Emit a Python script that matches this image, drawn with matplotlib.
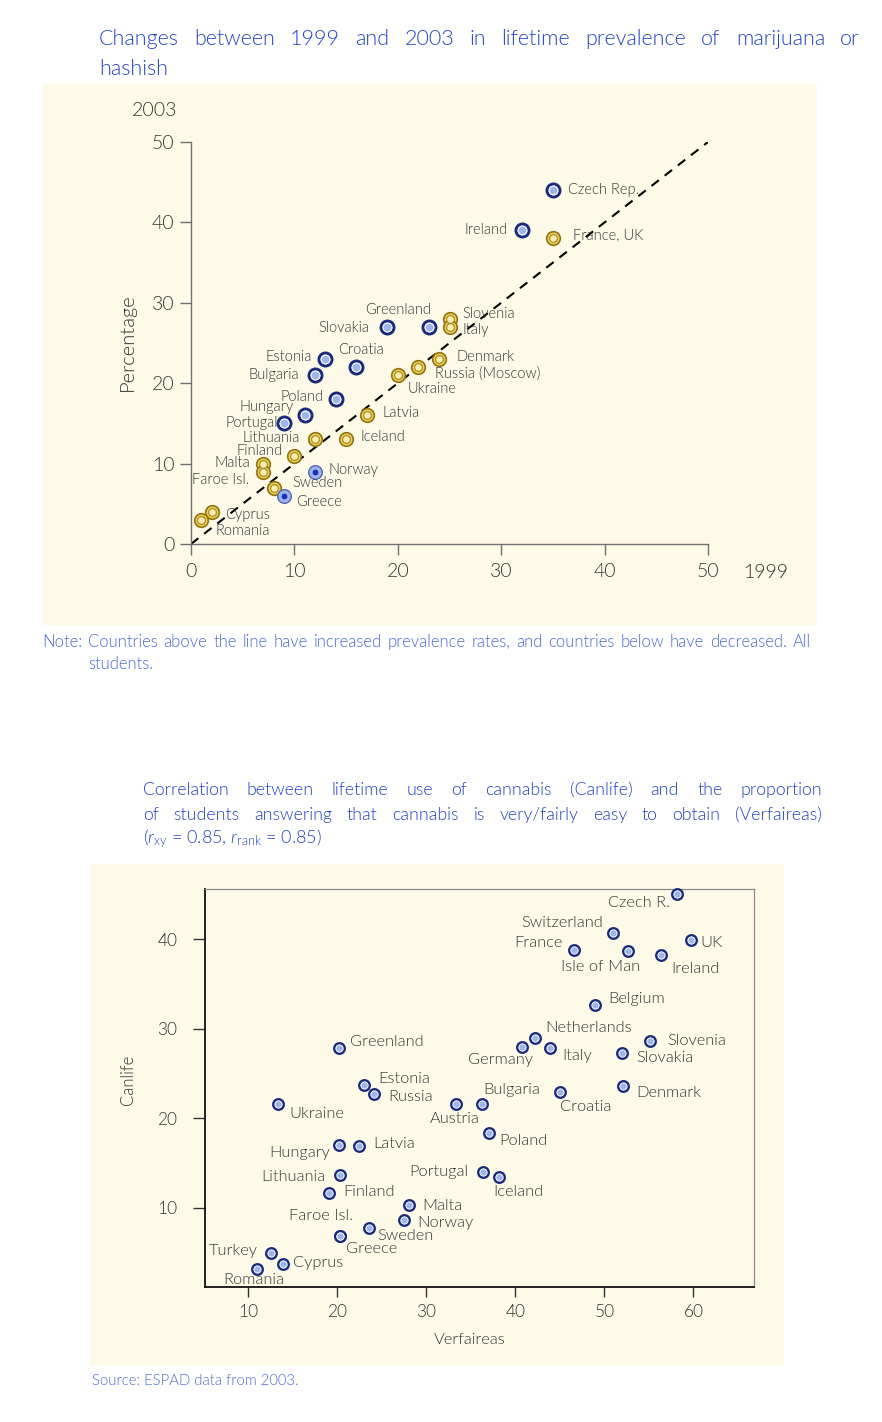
import matplotlib
matplotlib.use("Agg")
import matplotlib.pyplot as plt
from matplotlib.patches import Rectangle

# ---------------- data: chart 1 ----------------
top_countries = ["Czech Rep.", "Ireland", "France, UK", "Greenland", "Slovakia",
                 "Slovenia", "Italy", "Denmark", "Russia (Moscow)", "Ukraine",
                 "Estonia", "Croatia", "Bulgaria", "Poland", "Hungary",
                 "Portugal", "Latvia", "Lithuania", "Iceland", "Finland",
                 "Malta", "Faroe Isl.", "Norway", "Sweden", "Greece",
                 "Cyprus", "Romania"]
prev_1999 = [35, 32, 35, 23, 19, 25, 25, 24, 22, 20, 13, 16, 12, 14, 11, 9, 17,
             12, 15, 10, 7, 7, 12, 8, 9, 2, 1]
prev_2003 = [44, 39, 38, 27, 27, 28, 27, 23, 22, 21, 23, 22, 21, 18, 16, 15, 16,
             13, 13, 11, 10, 9, 9, 7, 6, 4, 3]
top_group = ["blue", "blue", "yellow", "blue", "blue", "yellow", "yellow", "yellow",
             "yellow", "yellow", "blue", "blue", "blue", "blue", "blue", "blue",
             "yellow", "yellow", "yellow", "yellow", "yellow", "yellow", "dot",
             "yellow", "dot", "yellow", "yellow"]
top_xticks = [0, 10, 20, 30, 40, 50]
top_yticks = [0, 10, 20, 30, 40, 50]

# ---------------- data: chart 2 ----------------
bot_countries = ["Czech R.", "Switzerland", "France", "Isle of Man", "UK", "Ireland",
                 "Belgium", "Netherlands", "Germany", "Italy", "Slovenia", "Slovakia",
                 "Denmark", "Greenland", "Estonia", "Russia", "Bulgaria", "Croatia",
                 "Austria", "Poland", "Portugal", "Iceland", "Ukraine", "Hungary",
                 "Latvia", "Lithuania", "Finland", "Malta", "Norway", "Sweden",
                 "Faroe Isl.", "Greece", "Turkey", "Cyprus", "Romania"]
verfaireas = [58.1, 51.0, 46.6, 52.7, 59.7, 56.3, 48.9, 42.2, 40.7, 43.9, 55.1, 52.0,
              52.1, 20.2, 23.0, 24.1, 36.2, 45.0, 33.3, 37.0, 36.4, 38.2, 13.3, 20.2,
              22.4, 20.3, 19.1, 28.1, 27.5, 23.6, 20.3, 20.3, 12.5, 13.9, 11.0]
canlife = [45.0, 40.7, 38.8, 38.7, 39.9, 38.2, 32.6, 29.0, 28.0, 27.8, 28.6, 27.3,
           23.6, 27.8, 23.7, 22.7, 21.6, 22.9, 21.6, 18.4, 14.0, 13.4, 21.6, 17.0,
           16.9, 13.6, 11.6, 10.3, 8.6, 7.7, 6.8, 6.8, 4.9, 3.7, 3.2]
bot_xticks = [10, 20, 30, 40, 50, 60]
bot_yticks = [10, 20, 30, 40]

# ---------------- label layout (offset pixels, alignment) ----------------
top_label_pos = {
    "Czech Rep.": (15, 0, "left"), "Ireland": (-14, 0, "right"),
    "France, UK": (20, 3, "left"), "Greenland": (2, 17, "right"),
    "Slovakia": (-18, -1, "right"), "Slovenia": (13, 5, "left"),
    "Italy": (13, -3, "left"), "Denmark": (17, 2, "left"),
    "Russia (Moscow)": (17, -7, "left"), "Ukraine": (10, -14, "left"),
    "Estonia": (-14, 2, "right"), "Croatia": (5, 17, "center"),
    "Bulgaria": (-16, 0, "right"), "Poland": (-12, 2, "right"),
    "Hungary": (-11, 8, "right"), "Portugal": (-6, 0, "right"),
    "Latvia": (16, 2, "left"), "Lithuania": (-15, 1, "right"),
    "Iceland": (14, 2, "left"), "Finland": (-12, 5, "right"),
    "Malta": (-13, 1, "right"), "Faroe Isl.": (-14, -8, "right"),
    "Norway": (13, 2, "left"), "Sweden": (19, 5, "left"),
    "Greece": (12, -6, "left"), "Cyprus": (13, -3, "left"),
    "Romania": (14, -11, "left"),
}
bot_label_pos = {
    "Czech R.": (-7, -9, "right"), "Switzerland": (-10, 10, "right"),
    "France": (-12, 7, "right"), "Isle of Man": (12, -16, "right"),
    "UK": (10, -3, "left"), "Ireland": (11, -14, "left"),
    "Belgium": (14, 6, "left"), "Netherlands": (10, 10, "left"),
    "Germany": (11, -13, "right"), "Italy": (12, -8, "left"),
    "Slovenia": (17, 0, "left"), "Slovakia": (14, -5, "left"),
    "Denmark": (13, -7, "left"), "Greenland": (11, 6, "left"),
    "Estonia": (14, 6, "left"), "Russia": (14, -3, "left"),
    "Bulgaria": (2, 14, "left"), "Croatia": (0, -15, "left"),
    "Austria": (-1, -15, "center"), "Poland": (11, -8, "left"),
    "Portugal": (-15, 0, "right"), "Iceland": (-6, -15, "left"),
    "Ukraine": (12, -10, "left"), "Hungary": (-9, -8, "right"),
    "Latvia": (15, 2, "left"), "Lithuania": (-15, -2, "right"),
    "Finland": (14, 1, "left"), "Malta": (13, -1, "left"),
    "Norway": (13, -3, "left"), "Sweden": (8, -8, "left"),
    "Faroe Isl.": (13, 20, "right"), "Greece": (6, -13, "left"),
    "Turkey": (-13, 2, "right"), "Cyprus": (10, 1, "left"),
    "Romania": (-3, -11, "center"),
}

# ---------------- styling ----------------
W, H = 882, 1422
BG = "#FEFAE8"
TITLE_C = "#2443C2"
NOTE_C = "#4C6AD2"
TXT = "#333333"
NAVY = "#1B2A7C"
LBLUE = "#9EB5EC"
LIGHT = 300

plt.rcParams["font.family"] = ["Lato", "DejaVu Sans"]
plt.rcParams["font.weight"] = LIGHT
plt.rcParams["mathtext.fontset"] = "custom"
plt.rcParams["mathtext.rm"] = "Lato"
plt.rcParams["mathtext.it"] = "Lato:italic"

fig = plt.figure(figsize=(W / 100, H / 100), dpi=100)
renderer = fig.canvas.get_renderer()


def rect(x0, y0, x1, y1):
    return [x0 / W, 1 - y1 / H, (x1 - x0) / W, (y1 - y0) / H]


def panel(x0, y0, x1, y1):
    fig.patches.append(Rectangle((x0 / W, 1 - y1 / H), (x1 - x0) / W, (y1 - y0) / H,
                                 transform=fig.transFigure, facecolor=BG,
                                 edgecolor="none", zorder=-5))


def justified(text, x0, x1, y, size, color, weight=LIGHT, justify=True):
    words = text.split()
    objs = [fig.text(0, 1 - y / H, w, fontsize=size, color=color, va="center",
                     ha="left", fontweight=weight) for w in words]
    widths = [o.get_window_extent(renderer).width for o in objs]
    if justify and len(words) > 1:
        gap = (x1 - x0 - sum(widths)) / (len(words) - 1)
    else:
        gap = size * 0.3
    x = x0
    for o, w in zip(objs, widths):
        o.set_x(x / W)
        x += w + gap


# ================= chart 1 =================
panel(42, 84, 817, 625)
justified("Changes between 1999 and 2003 in lifetime prevalence of marijuana or",
          99, 860, 39, 15.5, TITLE_C, weight=LIGHT)
fig.text(99 / W, 1 - 69 / H, "hashish", fontsize=15.5, color=TITLE_C, va="center",
         fontweight=LIGHT)

ax1 = fig.add_axes(rect(191, 142, 708, 544))
ax1.set_facecolor("none")
ax1.set_xlim(0, 50)
ax1.set_ylim(0, 50)
for s in ["top", "right"]:
    ax1.spines[s].set_visible(False)
for s in ["left", "bottom"]:
    ax1.spines[s].set_color("#707070")
    ax1.spines[s].set_linewidth(1.0)
ax1.set_xticks(top_xticks)
ax1.set_yticks(top_yticks)
ax1.tick_params(direction="out", length=8, width=1, color="#707070",
                labelsize=14, labelcolor=TXT)
ax1.tick_params(axis="x", pad=6)
ax1.tick_params(axis="y", pad=4)

ax1.axline((0, 0), slope=1, color="black", lw=1.5, dashes=(4.5, 3.5), zorder=2)

for g in ["yellow", "blue", "dot"]:
    xs = [x for x, gg in zip(prev_1999, top_group) if gg == g]
    ys = [y for y, gg in zip(prev_2003, top_group) if gg == g]
    if g == "blue":
        ax1.plot(xs, ys, "o", ms=9.3, mfc=LBLUE, mec=NAVY, mew=2.2, clip_on=False, zorder=4)
        ax1.plot(xs, ys, "o", ms=6.4, mfc=LBLUE, mec="white", mew=0.8, clip_on=False, zorder=5)
    elif g == "yellow":
        ax1.plot(xs, ys, "o", ms=9.8, mfc="#F2CF50", mec="#8E7414", mew=1.2, clip_on=False, zorder=4)
        ax1.plot(xs, ys, "o", ms=5.6, mfc="#FDEDB0", mec="#A08426", mew=0.8, clip_on=False, zorder=5)
    else:
        ax1.plot(xs, ys, "o", ms=9.8, mfc=LBLUE, mec="#5565B0", mew=1.0, clip_on=False, zorder=4)
        ax1.plot(xs, ys, "o", ms=4.2, mfc="#1A32B8", mec="none", clip_on=False, zorder=5)

for name, x, y in zip(top_countries, prev_1999, prev_2003):
    dx, dy, ha = top_label_pos[name]
    ax1.annotate(name, (x, y), xytext=(dx, dy), textcoords="offset pixels",
                 ha=ha, va="center", fontsize=10.5, color=TXT, zorder=6)

fig.text(155 / W, 1 - 110 / H, "2003", fontsize=14, color=TXT, ha="center", va="center")
fig.text(766 / W, 1 - 572 / H, "1999", fontsize=14, color=TXT, ha="center", va="center")
fig.text(127 / W, 1 - 342 / H, "Percentage", fontsize=14.5, color=TXT, rotation=90,
         ha="center", va="center")

justified("Note: Countries above the line have increased prevalence rates, and countries "
          "below have decreased. All", 42, 811, 642, 12, NOTE_C)
fig.text(88 / W, 1 - 664 / H, "students.", fontsize=12, color=NOTE_C, va="center")

# ================= chart 2 =================
justified("Correlation between lifetime use of cannabis (Canlife) and the proportion",
          143, 822, 790, 12.8, TITLE_C, weight=LIGHT)
justified("of students answering that cannabis is very/fairly easy to obtain (Verfaireas)",
          143, 822, 815, 12.8, TITLE_C, weight=LIGHT)
fig.text(143 / W, 1 - 839 / H, r"($r_{\mathrm{xy}}$ = 0.85, $r_{\mathrm{rank}}$ = 0.85)",
         fontsize=13, color=TITLE_C, va="center", fontweight=LIGHT)

panel(90, 864, 784, 1366)
ax2 = fig.add_axes(rect(204.5, 889.3, 754, 1287.3))
ax2.set_facecolor("none")
ax2.set_xlim(5.08, 66.8)
ax2.set_ylim(1.1, 45.58)
for s in ["left", "bottom"]:
    ax2.spines[s].set_color("#111111")
    ax2.spines[s].set_linewidth(1.3)
for s in ["top", "right"]:
    ax2.spines[s].set_color("#8A8A8A")
    ax2.spines[s].set_linewidth(0.9)
ax2.set_xticks(bot_xticks)
ax2.set_yticks(bot_yticks)
ax2.tick_params(direction="out", width=1, color="#333333", labelsize=12.5,
                labelcolor=TXT)
ax2.tick_params(axis="x", length=7, pad=5)
ax2.tick_params(axis="y", length=8.5, pad=11)

ax2.plot(verfaireas, canlife, "o", ls="none", ms=7.5, mfc=LBLUE, mec=NAVY, mew=1.8,
         clip_on=False, zorder=4)
ax2.plot(verfaireas, canlife, "o", ls="none", ms=5.2, mfc=LBLUE, mec="white", mew=0.6,
         clip_on=False, zorder=5)

for name, x, y in zip(bot_countries, verfaireas, canlife):
    dx, dy, ha = bot_label_pos[name]
    ax2.annotate(name, (x, y), xytext=(dx, dy), textcoords="offset pixels",
                 ha=ha, va="center", fontsize=11.8, color=TXT, zorder=6)

fig.text(470 / W, 1 - 1340 / H, "Verfaireas", fontsize=11.8, color=TXT,
         ha="center", va="center")
fig.text(128 / W, 1 - 1080 / H, "Canlife", fontsize=12, color=TXT, rotation=90,
         ha="center", va="center")

fig.text(92 / W, 1 - 1381 / H, "Source: ESPAD data from 2003.", fontsize=10.7,
         color=NOTE_C, va="center")

fig.savefig("out.png", dpi=100, facecolor="white")
